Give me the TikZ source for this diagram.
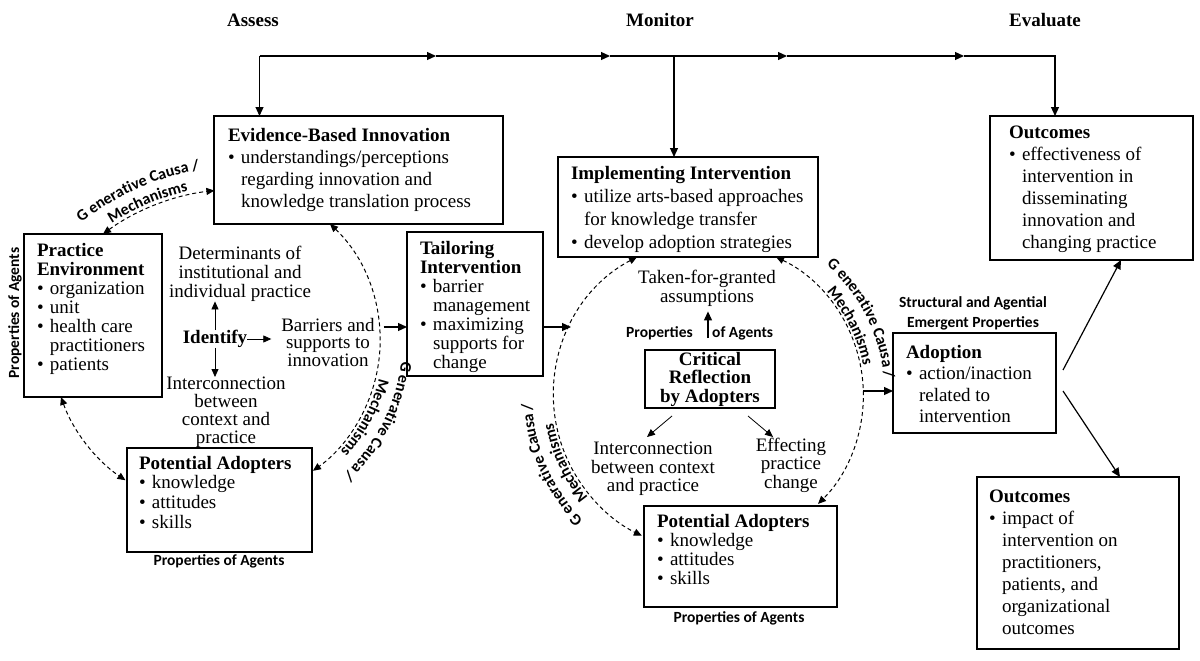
\documentclass[tikz,border=0pt]{standalone}
\usepackage{fontspec}
\setmainfont{Liberation Serif}
\newfontfamily\sansfnt{Carlito}
\usetikzlibrary{arrows.meta,calc,decorations.text}
\newcommand{\mybul}{\makebox[13pt][l]{\textbullet}}
\newcommand{\myind}{\hspace*{13pt}}
\newcommand{\curvfmt}{\sansfnt\bfseries\fontsize{16}{16}\selectfont}
\begin{document}
\begin{tikzpicture}[x=1pt,y=1pt,
  box/.style={draw, line width=1.5pt, inner sep=0pt, outer sep=0pt, anchor=north west},
  txt/.style={inner sep=0pt, outer sep=0pt, align=left, anchor=north west},
  lbl/.style={inner sep=0pt, outer sep=0pt, align=center, anchor=north},
  head/.style={inner sep=0pt, font=\bfseries\fontsize{19}{19}\selectfont},
  sfl/.style={inner sep=0pt, font=\sansfnt\bfseries\fontsize{15.5}{20}\selectfont, align=center},
  arr/.style={line width=1.2pt, -{Triangle[length=9pt,width=8pt]}},
  tarr/.style={line width=0.8pt, -{Triangle[length=8pt,width=7pt]}},
  darr/.style={line width=1pt, dash pattern=on 4pt off 3pt, {Triangle[length=8pt,width=7pt]}-{Triangle[length=8pt,width=7pt]}},
  ctext/.style={decorate, decoration={text along path, text align=center, text={#1}}}
]
\useasboundingbox (0,0) rectangle (1200,-661);
\fill[white] (0,0) rectangle (1200,-661);

% headings
\node[head] (hA) at (253,-20) {Assess};
\node[head] (hM) at (660,-20) {Monitor};
\node[head] (hE) at (1045,-20) {Evaluate};

% boxes
\node[box, minimum width=289pt, minimum height=108pt] (evid) at (214,-116) {};
\node[box, minimum width=260pt, minimum height=100pt] (impl) at (558,-157) {};
\node[box, minimum width=203pt, minimum height=144pt] (out1) at (990,-116) {};
\node[box, minimum width=138pt, minimum height=163pt] (pe) at (24,-234) {};
\node[box, minimum width=136pt, minimum height=144pt] (tail) at (407,-232) {};
\node[box, minimum width=163pt, minimum height=100pt] (adop) at (893,-333) {};
\node[box, minimum width=185pt, minimum height=104pt] (pa1) at (127,-448) {};
\node[box, minimum width=193pt, minimum height=101pt] (pa2) at (644,-506) {};
\node[box, minimum width=202pt, minimum height=172pt] (out2) at (977,-477) {};
\node[box, minimum width=130pt, minimum height=58pt, align=center,
      font=\bfseries\fontsize{19}{18.5}\selectfont] (crit) at (645,-350) {Critical\\Reflection\\by Adopters};

% box texts
\node[txt, font=\fontsize{19}{22}\selectfont] (evidT) at (228,-128)
  {\textbf{Evidence-Based Innovation}\\\mybul understandings/perceptions\\\myind regarding innovation and\\\myind knowledge translation process};
\node[txt, font=\fontsize{19}{23}\selectfont] (implT) at (571,-166)
  {\textbf{Implementing Intervention}\\\mybul utilize arts-based approaches\\\myind for knowledge transfer\\\mybul develop adoption strategies};
\node[txt, font=\fontsize{19}{22}\selectfont] (out1T) at (1009,-126)
  {\textbf{Outcomes}\\\mybul effectiveness of\\\myind intervention in\\\myind disseminating\\\myind innovation and\\\myind changing practice};
\node[txt, font=\fontsize{19}{19}\selectfont] (peT) at (37,-243)
  {\textbf{Practice}\\\textbf{Environment}\\\mybul organization\\\mybul unit\\\mybul health care\\\myind practitioners\\\mybul patients};
\node[txt, font=\fontsize{19}{19}\selectfont] (tailT) at (420,-241)
  {\textbf{Tailoring}\\\textbf{Intervention}\\\mybul barrier\\\myind management\\\mybul maximizing\\\myind supports for\\\myind change};
\node[txt, font=\fontsize{19}{21.5}\selectfont] (adopT) at (906,-345)
  {\textbf{Adoption}\\\mybul action/inaction\\\myind related to\\\myind intervention};
\node[txt, font=\fontsize{19}{19.7}\selectfont] (pa1T) at (139,-456)
  {\textbf{Potential Adopters}\\\mybul knowledge\\\mybul attitudes\\\mybul skills};
\node[txt, font=\fontsize{19}{19}\selectfont] (pa2T) at (657,-514)
  {\textbf{Potential Adopters}\\\mybul knowledge\\\mybul attitudes\\\mybul skills};
\node[txt, font=\fontsize{19}{22}\selectfont] (out2T) at (989,-490)
  {\textbf{Outcomes}\\\mybul impact of\\\myind intervention on\\\myind practitioners,\\\myind patients, and\\\myind organizational\\\myind outcomes};

% free labels
\node[lbl, font=\fontsize{19}{19}\selectfont] (det) at (240,-246) {Determinants of\\institutional and\\individual practice};
\node[inner sep=0pt, font=\bfseries\fontsize{19}{19}\selectfont] (idf) at (215,-339) {Identify};
\node[lbl, font=\fontsize{19}{17.5}\selectfont] (barr) at (328,-318) {Barriers and\\supports to\\innovation};
\node[lbl, font=\fontsize{19}{18}\selectfont] (inter1) at (226,-377) {Interconnection\\between\\context and\\practice};
\node[lbl, font=\fontsize{19}{19}\selectfont] (taken) at (707,-270) {Taken-for-granted\\assumptions};
\node[lbl, font=\fontsize{19}{18.5}\selectfont] (inter2) at (653,-442) {Interconnection\\between context\\and practice};
\node[lbl, font=\fontsize{19}{18.5}\selectfont] (eff) at (791,-438) {Effecting\\practice\\change};

% sans labels
\node[sfl, rotate=90] (poaV) at (15,-313) {Properties of Agents};
\node[sfl] (poa1) at (219,-561) {Properties of Agents};
\node[sfl] (poa2) at (739,-618) {Properties of Agents};
\node[sfl, anchor=east] (propL) at (693,-333) {Properties};
\node[sfl, anchor=west] (propR) at (712,-333) {of Agents};
\node[sfl] (struct) at (973,-313) {Structural and Agential\\Emergent Properties};

% top flow line
\coordinate (tl) at (259.5,-56);
\coordinate (m1) at (436,-56);
\coordinate (m2) at (610,-56);
\coordinate (m3) at (787,-56);
\coordinate (m4) at (964,-56);
\coordinate (tr) at (1055,-56);
\coordinate (mt) at (674,-56);
\draw[arr] (tl) -- (tl |- evid.north);
\draw[arr] (tl) -- (m1);
\draw[arr] (m1) -- (m2);
\draw[arr] (m2) -- (m3);
\draw[arr] (m3) -- (m4);
\draw[arr] (m4) -- (tr) -- (tr |- out1.north);
\draw[arr] (mt) -- (mt |- impl.north);

% identify arrows
\coordinate (barrIn) at ($(barr.west)+(-10,0)$);
\draw[tarr] (idf.north) -- (idf.north |- det.south);
\draw[tarr] (idf.south) -- (idf.south |- inter1.north);
\draw[tarr] (idf.east) -- (barrIn |- idf.east);

% flow to tailoring and adoption
\coordinate (tailend) at (571,-327);
\coordinate (barrOut) at ($(barr.east)+(9,0)$);
\draw[arr] (barrOut |- tailend) -- (tail.west |- tailend);
\draw[arr] (tail.east |- tailend) -- (tailend);
\coordinate (adin) at (863,-391);
\draw[arr] (adin) -- (adop.west |- adin);
\draw[arr] ($(adop.east)+(7,13)$) -- ($(out1.south west)+(131,0)$);
\draw[arr] ($(adop.east)+(7,-8)$) -- ($(out2.north west)+(143,0)$);

% critical reflection arrows
\coordinate (pa) at ($(crit.north)+(-2,12)$);
\draw[arr] (pa) -- ($(pa |- taken.south)+(0,-5)$);
\draw[tarr] ($(crit.south)+(-38,-8)$) -- ($(inter2.north)+(-6,5)$);
\draw[tarr] ($(crit.south)+(38,-8)$) -- ($(eff.north)+(-18,1)$);

% dashed generative mechanism arcs
\draw[darr] ($(pe.north west)+(79,0)$) arc[start angle=126.2, end angle=96.4, radius=232.5pt];
\draw[darr] ($(pe.south west)+(37,0)$) arc[start angle=199.6, end angle=235.9, radius=169pt];
\draw[darr] ($(evid.south west)+(116,0)$) arc[start angle=46.6, end angle=-54.5, radius=160.2pt];
\draw[darr] ($(impl.south west)+(79,0)$) arc[start angle=117.7, end angle=244.3, radius=156pt];
\draw[darr] ($(impl.south west)+(218,0)$) arc[start angle=64.6, end angle=-45.3, radius=153pt];

% curved labels
\coordinate (cA) at (240,-420);
\coordinate (cL) at (220,-340.5);
\coordinate (cM) at (710,-395.5);
\path[ctext={|\curvfmt|G enerative Causa /}] ($(cA)+(144:253pt)$) arc[start angle=144, end angle=84, radius=253pt];
\path[ctext={|\curvfmt|Mechanisms}] ($(cA)+(143:234.5pt)$) arc[start angle=143, end angle=83, radius=234.5pt];
\path[ctext={|\curvfmt|G enerative Causa /}] ($(cL)+(3:182.5pt)$) arc[start angle=3, end angle=-57, radius=182.5pt];
\path[ctext={|\curvfmt|Mechanisms}] ($(cL)+(2:163.5pt)$) arc[start angle=2, end angle=-58, radius=163.5pt];
\path[ctext={|\curvfmt|G enerative Causa /}] ($(cM)+(233.5:178pt)$) arc[start angle=233.5, end angle=173.5, radius=178pt];
\path[ctext={|\curvfmt|Mechanisms}] ($(cM)+(235:159pt)$) arc[start angle=235, end angle=175, radius=159pt];
\path[ctext={|\curvfmt|G enerative Causa /}] ($(cM)+(57:175pt)$) arc[start angle=57, end angle=-3, radius=175pt];
\path[ctext={|\curvfmt|Mechanisms}] ($(cM)+(56.4:156pt)$) arc[start angle=56.4, end angle=-3.6, radius=156pt];
\end{tikzpicture}
\end{document}
